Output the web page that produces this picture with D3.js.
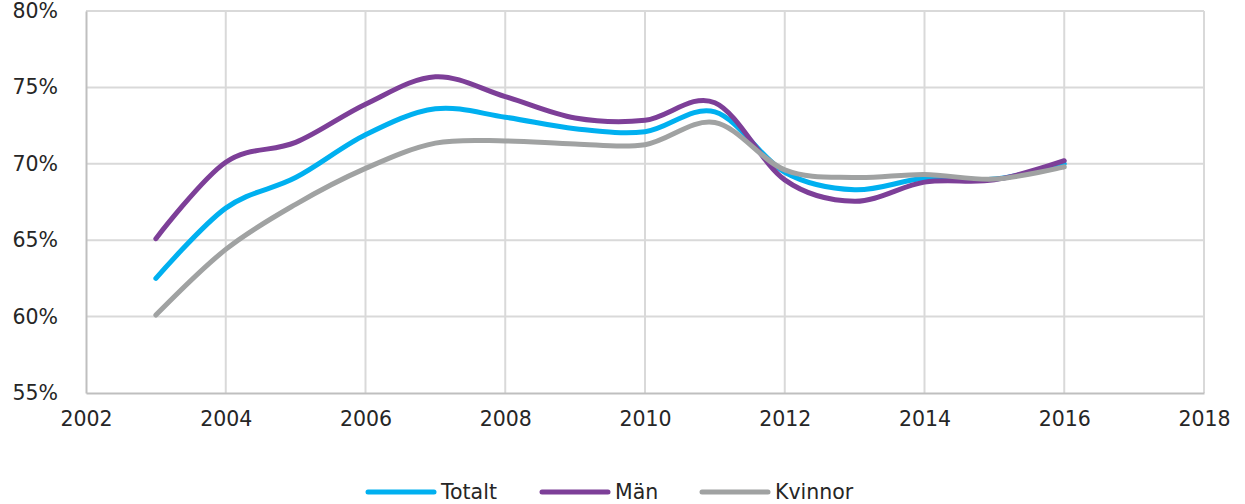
<!DOCTYPE html>
<html>
<head>
<meta charset="utf-8">
<script src="https://cdn.jsdelivr.net/npm/d3@7"></script>
<style>
  body { margin: 0; background: #fff; }
  svg { font-family: "DejaVu Sans", Verdana, sans-serif; }
</style>
</head>
<body>
<div id="chart"></div>
<script>
// yearly values (share, %)
var years = [2003, 2004, 2005, 2006, 2007, 2008, 2009, 2010, 2011, 2012, 2013, 2014, 2015, 2016];
var totalt  = [62.5, 67.1, 69.1, 71.9, 73.6, 73.05, 72.3, 72.1, 73.4, 69.45, 68.3, 69.05, 69.0, 70.0];
var man     = [65.1, 70.1, 71.4, 73.9, 75.7, 74.4, 73.0, 72.85, 74.0, 68.95, 67.55, 68.8, 68.95, 70.2];
var kvinnor = [60.1, 64.4, 67.35, 69.7, 71.35, 71.5, 71.3, 71.25, 72.7, 69.6, 69.1, 69.3, 69.0, 69.8];

var seriesNames = ["Totalt", "Män", "Kvinnor"];
var xTicks = [2002, 2004, 2006, 2008, 2010, 2012, 2014, 2016, 2018];
var yTicks = [55, 60, 65, 70, 75, 80];

var colors = ["#00B0F0", "#7D3F98", "#A0A2A2"];

var width = 1245, height = 504;
var margin = {left: 86, right: 41, top: 11, bottom: 111};

var svg = d3.select("#chart").append("svg")
    .attr("width", width)
    .attr("height", height);

var x = d3.scaleLinear().domain([2002, 2018]).range([margin.left, width - margin.right]);
var y = d3.scaleLinear().domain([55, 80]).range([height - margin.bottom, margin.top]);

// grid
svg.append("g").selectAll("line.h")
    .data(yTicks.slice(1))
    .enter().append("line")
    .attr("x1", x(2002)).attr("x2", x(2018))
    .attr("y1", function (d) { return y(d); })
    .attr("y2", function (d) { return y(d); })
    .attr("stroke", "#D9D9D9").attr("stroke-width", 2);

svg.append("g").selectAll("line.v")
    .data(xTicks.slice(1))
    .enter().append("line")
    .attr("x1", function (d) { return x(d); })
    .attr("x2", function (d) { return x(d); })
    .attr("y1", y(55)).attr("y2", y(80))
    .attr("stroke", "#D9D9D9").attr("stroke-width", 2);

// axes
var xAxis = svg.append("g")
    .attr("transform", "translate(0," + y(55) + ")")
    .call(d3.axisBottom(x).tickValues(xTicks).tickFormat(d3.format("d")).tickSize(0).tickPadding(18));
var yAxis = svg.append("g")
    .attr("transform", "translate(" + x(2002) + ",0)")
    .call(d3.axisLeft(y).tickValues(yTicks).tickFormat(function (d) { return d + "%"; }).tickSize(0).tickPadding(28));

[xAxis, yAxis].forEach(function (a) {
    a.select(".domain").attr("stroke", "#BFBFBF").attr("stroke-width", 2);
    a.selectAll("text").attr("font-size", 20.5).attr("fill", "#262626")
        .attr("font-family", "DejaVu Sans, Verdana, sans-serif");
});

// lines
var data = [totalt, man, kvinnor];
var line = d3.line()
    .x(function (d, i) { return x(years[i]); })
    .y(function (d) { return y(d); })
    .curve(d3.curveCardinal.tension(0));

svg.append("g").selectAll("path")
    .data(data)
    .enter().append("path")
    .attr("d", line)
    .attr("fill", "none")
    .attr("stroke", function (d, i) { return colors[i]; })
    .attr("stroke-width", 5)
    .attr("stroke-linecap", "round")
    .attr("stroke-linejoin", "round");

// legend
var legendX = [368, 542, 702];
var legend = svg.append("g").selectAll("g")
    .data(seriesNames)
    .enter().append("g")
    .attr("transform", function (d, i) { return "translate(" + legendX[i] + "," + 492 + ")"; });

legend.append("line")
    .attr("x1", 0).attr("x2", 66)
    .attr("stroke", function (d, i) { return colors[i]; })
    .attr("stroke-width", 5)
    .attr("stroke-linecap", "round");

legend.append("text")
    .attr("x", 73).attr("y", 7)
    .attr("font-size", 20.5)
    .attr("fill", "#262626")
    .text(function (d) { return d; });
</script>
</body>
</html>
